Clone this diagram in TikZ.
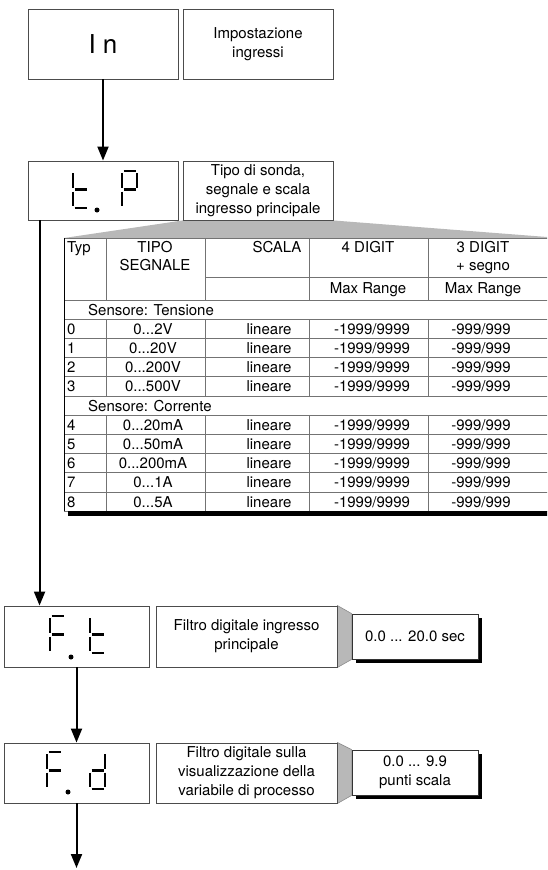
\documentclass[tikz,border=0pt]{standalone}
\usepackage{fontspec}
\setmainfont{TeX Gyre Heros}
\usepackage{tikz}
\usetikzlibrary{arrows.meta,shadows,backgrounds}

% segments of a display digit (top left at 0,0)
\def\sga{(1.5,0) -- (13.5,0)}
\def\sgb{(15,2) -- (15,16.5)}
\def\sgc{(15,20.5) -- (15,35)}
\def\sgd{(1.5,37) -- (13.5,37)}
\def\sge{(0,20.5) -- (0,35)}
\def\sgf{(0,2) -- (0,16.5)}
\def\sgg{(1.5,18.5) -- (13.5,18.5)}
\newcommand{\sevseg}[3]{%
  \begin{scope}[shift={(#1,#2)}]
    \foreach \s in {#3}{\edef\segpath{\noexpand\draw[segm] \csname sg\s\endcsname;}\segpath}
  \end{scope}}
\newcommand{\dts}{...}

\begin{document}
\begin{tikzpicture}[x=1pt,y=-1pt,
  box/.style={draw=black!70,line width=0.9pt,fill=white,inner sep=0pt,align=center,font=\fontsize{15}{19}\selectfont},
  val/.style={box,draw=black!80,drop shadow={shadow xshift=4pt,shadow yshift=-4pt,fill=black,opacity=1}},
  arr/.style={line width=2pt,-{Triangle[length=14pt,width=11pt]}},
  segm/.style={line width=2.5pt},
  tline/.style={draw=black!55,line width=0.8pt},
  cell/.style={inner sep=0pt,anchor=base,font=\fontsize{15}{19}\selectfont},
  funnel/.style={fill=black!28},
  link/.style={fill=black!28,draw=black!45,line width=0.6pt}]
\useasboundingbox (0,0) rectangle (547,870);

\node[box,minimum width=150pt,minimum height=70pt,font=\fontsize{26}{30}\selectfont] (in) at (103,44) {I n};
\node[box,minimum width=150pt,minimum height=70pt] (intxt) at (258,44) {Impostazione\\ingressi};
\node[box,minimum width=150pt,minimum height=59pt] (tp) at (103,190.5) {};
\node[box,minimum width=150pt,minimum height=59pt] (tptxt) at (258,190.5) {Tipo di sonda,\\segnale e scala\\ingresso principale};

\node[box,minimum width=145pt,minimum height=61pt] (ft) at (76.5,636.5) {};
\node[box,minimum width=181pt,minimum height=61pt] (fttxt) at (246.5,636.5) {Filtro digitale ingresso\\principale};
\node[val,minimum width=126pt,minimum height=45pt] (ftval) at (415,636.5) {0.0 ... 20.0 sec};

\node[box,minimum width=145pt,minimum height=60pt] (fd) at (76.5,773) {};
\node[box,minimum width=181pt,minimum height=60pt] (fdtxt) at (246.5,773) {Filtro digitale sulla\\visualizzazione della\\variabile di processo};
\node[val,minimum width=126pt,minimum height=45pt] (fdval) at (415,772.5) {0.0 ... 9.9\\punti scala};

% display digits
\sevseg{73}{171}{f,e,g,d}
\sevseg{122}{171}{a,b,f,g,e}
\fill (97,210) circle (2.5pt);
\sevseg{50}{616}{a,f,g,e}
\sevseg{90}{616}{f,e,g,d}
\fill (71,657) circle (2.5pt);
\sevseg{47}{752}{a,f,g,e}
\sevseg{90}{752}{b,c,g,e,d}
\fill (68,792) circle (2.5pt);

\begin{scope}[on background layer]
  \clip (0,0) rectangle (547,870);
  \fill[funnel] (tptxt.south west) -- (tptxt.south east) -- (560,238) -- (64,238) -- cycle;
  \draw[link] (fttxt.north east) -- (ftval.north west) -- (ftval.south west) -- (fttxt.south east) -- cycle;
  \draw[link] (fdtxt.north east) -- (fdval.north west) -- (fdval.south west) -- (fdtxt.south east) -- cycle;
\end{scope}

% table
\begin{scope}
  \clip (0,0) rectangle (547,870);
  \fill[white] (64,238) rectangle (600,511.2);
  \draw[tline] (64,238) -- (600,238);
  \draw[tline] (205,277) -- (600,277);
  \foreach \k in {0,...,11} \draw[tline] (64,{300+19.2*\k}) -- (600,{300+19.2*\k});
  \foreach \cx in {106,205,309,428}
    \draw[tline] (\cx,238) -- (\cx,300) (\cx,319.2) -- (\cx,396) (\cx,415.2) -- (\cx,511.2);
  \draw[line width=0.9pt] (64,238) -- (64,511.2);
  \fill (68,511.2) rectangle (600,516);
\end{scope}

\node[cell,anchor=base west] (hty) at (67,252.5) {Typ};
\node[cell] (hts) at (155,252.5) {TIPO};
\node[cell] (hts2) at (155,270.5) {SEGNALE};
\node[cell] (hsc) at (277,252.5) {SCALA};
\node[cell] (h4d) at (368,252.5) {4 DIGIT};
\node[cell] (h3d) at (483,252.5) {3 DIGIT};
\node[cell] (h3d2) at (483,270.5) {+ segno};
\node[cell] (m4d) at (368,293.5) {Max Range};
\node[cell] (m3d) at (483,293.5) {Max Range};
\node[cell,anchor=base west] (sten) at (88,315) {Sensore: Tensione};
\node[cell,anchor=base west] (scor) at (88,411) {Sensore: Corrente};
\foreach \n/\sig in {0/2V,1/20V,2/200V,3/500V,4/20mA,5/50mA,6/200mA,7/1A,8/5A}{
  \pgfmathsetmacro\yb{\n<4 ? 315+19.2*(\n+1) : 315+19.2*(\n+2)}
  \node[cell,anchor=base west] (t\n) at (67,\yb) {\n};
  \node[cell] (s\n) at (153,\yb) {0\dts\sig};
  \node[cell] (c\n) at (269,\yb) {lineare};
  \node[cell] (d\n) at (372,\yb) {-1999/9999};
  \node[cell] (e\n) at (481,\yb) {-999/999};
}

% flow
\coordinate (tpout) at ([xshift=12pt]tp.south west);
\coordinate (fdout) at (76.5,868);
\draw[arr] (in) -- (tp);
\draw[arr] (tpout) -- (tpout |- ft.north);
\draw[arr] (ft) -- (fd);
\draw[arr] (fd) -- (fdout);
\end{tikzpicture}
\end{document}
